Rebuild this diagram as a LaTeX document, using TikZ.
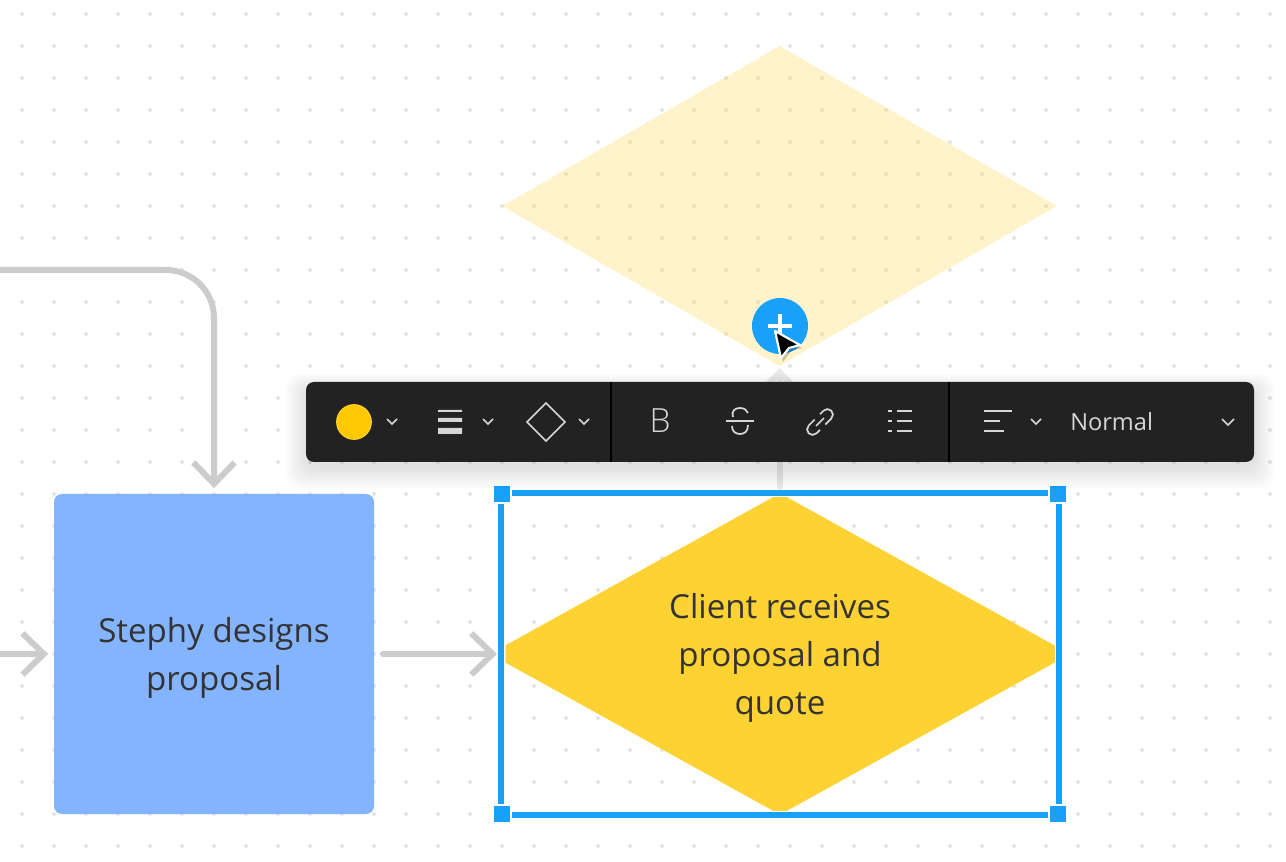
\documentclass[tikz,border=0pt]{standalone}
\usepackage{fontspec}
\setmainfont{Open Sans}
\newfontfamily\thinfont{Open Sans Light}
\usetikzlibrary{arrows.meta,shapes.geometric}
\definecolor{flowgray}{HTML}{CCCCCC}
\definecolor{ghostgray}{HTML}{E8E8E8}
\definecolor{dotgray}{HTML}{E4E4E4}
\definecolor{selblue}{HTML}{18A0FB}
\definecolor{boxblue}{HTML}{85B4FF}
\definecolor{decyellow}{HTML}{FFD233}
\definecolor{swatchyellow}{HTML}{FFC800}
\definecolor{barblack}{HTML}{222222}
\definecolor{iconwhite}{HTML}{D6D6D6}
\definecolor{textdark}{HTML}{333333}
\newcommand{\linelift}{\rule{0pt}{25pt}}
\begin{document}
\begin{tikzpicture}[
    x=0.75pt, y=-0.75pt,
    griddot/.style={circle, fill=dotgray, inner sep=0pt, minimum size=3pt},
    flowline/.style={draw=flowgray, line width=4.5pt, line cap=round, -{Straight Barb[length=16pt,width=31pt,line width=4.5pt]}},
    process/.style={rectangle, fill=boxblue, rounded corners=6pt, minimum size=240pt, inner sep=0pt, text=textdark, align=center, font=\fontsize{24.8pt}{36pt}\selectfont},
    decision/.style={diamond, aspect=1.8, minimum width=435pt, minimum height=241pt, inner sep=0pt, outer sep=0pt},
    handle/.style={rectangle, fill=selblue, draw=white, line width=1.5pt, minimum size=13.5pt, inner sep=0pt},
    selline/.style={draw=selblue, line width=4.5pt},
    icon/.style={draw=iconwhite, line width=1.3pt},
    caret/.style={icon, line width=1.2pt}
]
\useasboundingbox (0,0) rectangle (1286,862);
\fill[white] (0,0) rectangle (1286,862);
% dot grid
\foreach \i in {0,...,39}
    \foreach \j in {0,...,26}
        \node[griddot] at (22+32*\i,14+32*\j) {};

% ghost branch
\node[diamond, minimum width=416pt, minimum height=240pt, inner sep=0pt, outer sep=0pt, fill=decyellow, fill opacity=0.25] (ghost) at (779.5,206) {};
\coordinate (ghostfoot) at (780,487);
\draw[flowline, draw=ghostgray, shorten >=1.5pt] (ghostfoot) -- (ghost.south);
\node[circle, fill=selblue, minimum size=42pt, inner sep=0pt] (plus) at (780,326) {};
\draw[white, line width=3pt] (768,326) -- (792,326) (780,314) -- (780,338);

% shapes
\node[process] (stephy) at (214,654) {\linelift Stephy designs\\proposal};
\begin{scope}
    \clip (505.5,498) rectangle (1055,810);
    \node[decision, fill=decyellow, text=textdark, align=center, font=\fontsize{24.8pt}{36pt}\selectfont] (client) at (780,654) {\linelift Client receives\\proposal and\\quote};
\end{scope}

% connectors
\coordinate (feedtop) at (0,270);
\coordinate (feedleft) at (0,654);
\draw[flowline, rounded corners=36pt, shorten >=4.2pt] (feedtop) -| (stephy.north);
\draw[flowline, shorten >=4.2pt] (feedleft) -- (stephy.west);
\draw[flowline, shorten <=6.5pt, shorten >=0.8pt] (stephy.east) -- (498,654);

% selection frame
\draw[selline] (501,493) rectangle (1059,815);
\node[handle] (hnw) at (502,494) {};
\node[handle] (hne) at (1058,494) {};
\node[handle] (hsw) at (502,814) {};
\node[handle] (hse) at (1058,814) {};

% toolbar shadow
\foreach \s in {1,...,14}
    \fill[black, opacity=0.006, rounded corners=10pt] (306-1.5*\s,382-\s+6) rectangle (1254+1.5*\s,462+1.5*\s+6);
\node[rectangle, fill=barblack, rounded corners=6pt, minimum width=711pt, minimum height=60pt, inner sep=0pt] (toolbar) at (780,422) {};
\draw[black, line width=1.5pt] (611,382) -- (611,462) (949,382) -- (949,462);

% toolbar icons
\node[circle, fill=swatchyellow, draw=decyellow, line width=.8pt, minimum size=26pt, inner sep=0pt] (swatch) at (354,422) {};
\foreach \cx in {392,488,584,1036}
    \draw[caret] (\cx-5,419) -- (\cx,424) -- (\cx+5,419);
\draw[caret] (1222,419) -- (1228,425) -- (1234,419);
\fill[iconwhite] (438,410) rectangle (462,412) (438,418) rectangle (462,422) (438,428) rectangle (462,434);
\draw[icon] (546,403) -- (565,422) -- (546,441) -- (527,422) -- cycle;
\node[inner sep=0pt, text=iconwhite, font=\thinfont\fontsize{25pt}{25pt}\selectfont] (bold) at (660,421) {B};
\draw[icon] (726,421) -- (754,421);
\draw[icon] (733,417) .. controls (731,411) and (735,408) .. (740,408) .. controls (744,408) and (747,410) .. (748,413);
\draw[icon] (732,426) .. controls (732,431) and (735,434) .. (740,434) .. controls (745,434) and (748,431) .. (748,425);
\begin{scope}[shift={(820,422)}, rotate=45]
    \draw[icon] (-5.5,0) -- (5.5,0);
    \draw[icon] (2,5.5) -- (10.5,5.5) arc[start angle=90, end angle=-90, radius=5.5] -- (5.5,-5.5);
    \draw[icon] (-2,-5.5) -- (-10.5,-5.5) arc[start angle=-90, end angle=-270, radius=5.5] -- (-5.5,5.5);
\end{scope}
\foreach \ly in {411,421,431} {
    \fill[iconwhite] (888,\ly-1) rectangle (892,\ly+1);
    \fill[iconwhite] (897,\ly-1) rectangle (912,\ly+1);
}
\draw[icon] (984,411) -- (1012,411) (984,421) -- (1000,421) (984,431) -- (1004,431);
\node[anchor=west, inner sep=0pt, text=iconwhite, font=\fontsize{17.7pt}{18pt}\selectfont] (style) at (1070,422) {Normal};

% cursor
\fill[black, opacity=0.2] (776,333) -- (802,348) -- (791,351) -- (783,362) -- cycle;
\draw[white, line width=1.6pt, fill=black, line join=round] (775,331) -- (800,345) -- (789,348) -- (781,358) -- cycle;
\end{tikzpicture}
\end{document}
